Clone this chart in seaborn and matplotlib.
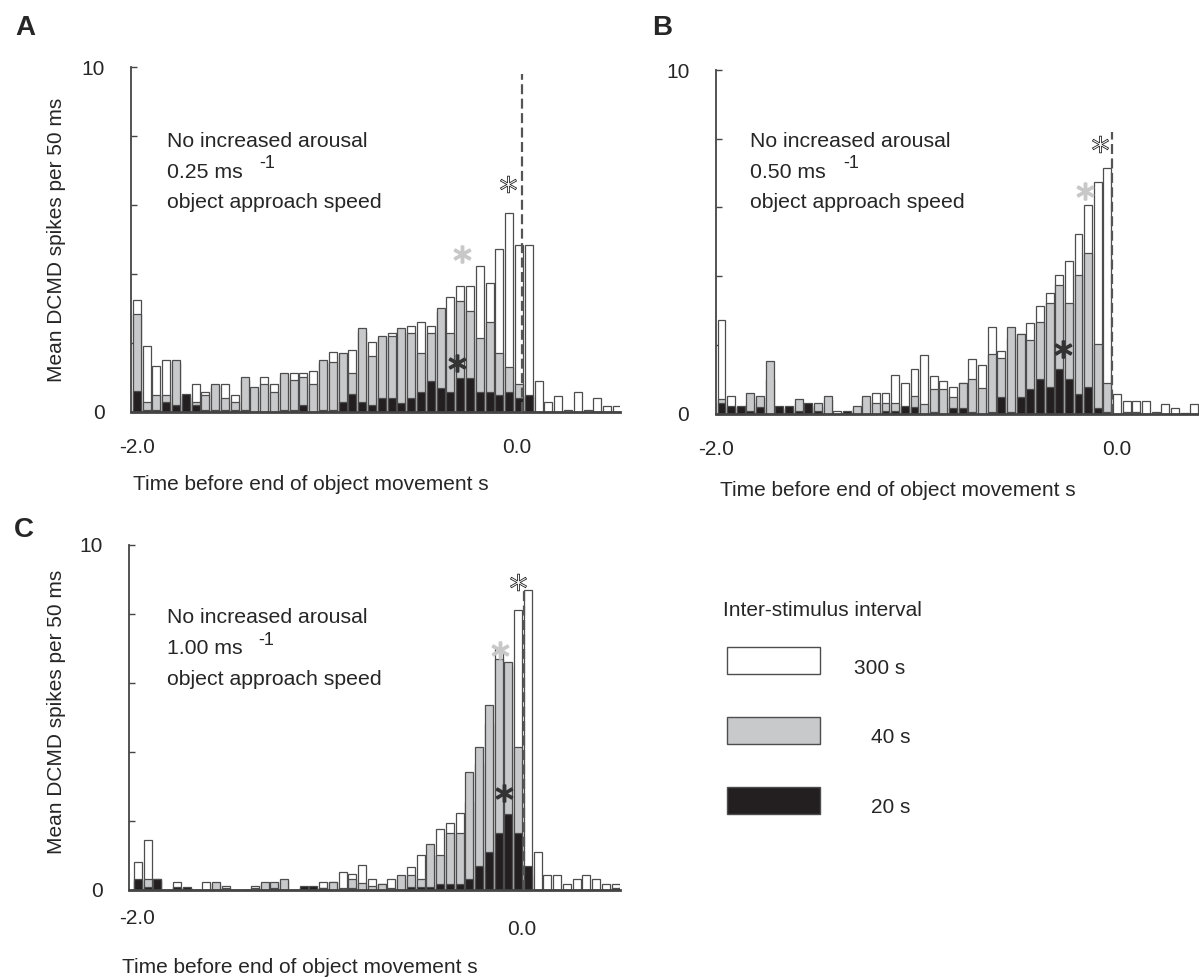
import numpy as np
import pandas as pd
import matplotlib
matplotlib.use('Agg')
import matplotlib.pyplot as plt
import seaborn as sns
from matplotlib.patches import Rectangle

sns.set_theme(style='white')
plt.rcParams['font.family'] = ['Liberation Sans', 'DejaVu Sans']

W, H = 1199, 977

isi_labels = ['300 s', '40 s', '20 s']
isi_colors = ['white', '#c8c9cb', '#231f20']
edge = '#4d4d4d'

# mean spikes per 50 ms bin, 50 bins per panel
# A: 0.25 m/s
a_300 = [3.24, 1.90, 1.32, 1.50, 1.40, 0.40, 0.80, 0.58, 0.70, 0.80,
         0.48, 0.90, 0.60, 0.99, 0.80, 1.00, 1.11, 1.11, 1.19, 1.40,
         1.73, 1.60, 1.78, 2.30, 2.01, 2.10, 2.29, 2.30, 2.49, 2.59,
         2.49, 2.90, 3.31, 3.63, 3.63, 4.21, 3.73, 4.73, 5.75, 4.84,
         4.84, 0.89, 0.27, 0.46, 0.05, 0.57, 0.05, 0.38, 0.17, 0.17]
a_40 = [2.82, 0.29, 0.48, 0.48, 1.50, 0.45, 0.29, 0.48, 0.80, 0.39,
        0.27, 0.99, 0.70, 0.80, 0.58, 1.11, 0.92, 0.99, 0.80, 1.50,
        1.43, 1.70, 1.11, 2.42, 1.62, 2.19, 2.19, 2.41, 2.29, 1.69,
        2.29, 3.00, 2.29, 3.22, 2.91, 2.12, 2.61, 1.69, 1.30, 0.79,
        0.45, 0.00, 0.00, 0.00, 0.00, 0.00, 0.00, 0.00, 0.00, 0.00]
a_20 = [0.60, 0.03, 0.05, 0.27, 0.18, 0.51, 0.18, 0.05, 0.05, 0.05,
        0.05, 0.05, 0.00, 0.00, 0.00, 0.05, 0.05, 0.19, 0.00, 0.05,
        0.05, 0.28, 0.50, 0.27, 0.18, 0.40, 0.40, 0.26, 0.40, 0.58,
        0.89, 0.68, 0.58, 0.97, 0.97, 0.58, 0.58, 0.49, 0.58, 0.40,
        0.49, 0.00, 0.00, 0.00, 0.00, 0.00, 0.00, 0.00, 0.00, 0.00]

# B: 0.50 m/s
b_300 = [2.73, 0.51, 0.15, 0.30, 0.45, 1.00, 0.10, 0.10, 0.30, 0.20,
         0.20, 0.40, 0.07, 0.05, 0.15, 0.40, 0.60, 0.60, 1.11, 0.90,
         1.29, 1.70, 1.09, 0.96, 0.78, 0.90, 1.59, 1.40, 2.51, 1.82,
         2.20, 2.30, 2.64, 3.13, 3.52, 4.02, 4.44, 5.24, 6.06, 6.75,
         7.16, 0.58, 0.37, 0.37, 0.37, 0.05, 0.27, 0.17, 0.02, 0.27]
b_40 = [0.43, 0.20, 0.18, 0.60, 0.51, 1.53, 0.15, 0.15, 0.43, 0.25,
        0.31, 0.51, 0.00, 0.05, 0.21, 0.51, 0.30, 0.30, 0.30, 0.20,
        0.50, 0.28, 0.70, 0.70, 0.49, 0.88, 0.99, 0.75, 1.72, 1.62,
        2.52, 2.30, 2.14, 2.65, 3.22, 3.73, 3.22, 4.02, 4.66, 2.01,
        0.90, 0.00, 0.05, 0.05, 0.00, 0.00, 0.00, 0.00, 0.00, 0.00]
b_20 = [0.30, 0.21, 0.21, 0.07, 0.18, 0.00, 0.21, 0.21, 0.07, 0.31,
        0.07, 0.00, 0.00, 0.07, 0.00, 0.00, 0.00, 0.07, 0.07, 0.21,
        0.19, 0.00, 0.05, 0.00, 0.17, 0.17, 0.05, 0.00, 0.05, 0.49,
        0.05, 0.49, 0.70, 0.99, 0.78, 1.29, 0.99, 0.56, 0.78, 0.17,
        0.05, 0.00, 0.00, 0.00, 0.00, 0.00, 0.00, 0.00, 0.00, 0.00]

# C: 1.00 m/s
c_300 = [0.81, 1.43, 0.25, 0.00, 0.21, 0.05, 0.00, 0.21, 0.15, 0.09,
         0.00, 0.00, 0.09, 0.15, 0.15, 0.25, 0.00, 0.05, 0.05, 0.21,
         0.21, 0.51, 0.44, 0.70, 0.30, 0.15, 0.30, 0.30, 0.66, 0.99,
         0.99, 1.77, 1.93, 2.21, 2.53, 3.64, 4.80, 6.98, 6.50, 8.11,
         8.69, 1.10, 0.41, 0.41, 0.17, 0.30, 0.41, 0.30, 0.17, 0.17]
c_40 = [0.25, 0.31, 0.31, 0.00, 0.05, 0.05, 0.00, 0.00, 0.21, 0.05,
        0.00, 0.00, 0.05, 0.21, 0.21, 0.31, 0.00, 0.05, 0.05, 0.05,
        0.21, 0.05, 0.31, 0.19, 0.10, 0.17, 0.05, 0.41, 0.41, 0.30,
        1.33, 0.99, 1.63, 1.63, 3.41, 4.14, 5.37, 6.68, 6.59, 4.14,
        0.40, 0.00, 0.00, 0.00, 0.00, 0.00, 0.00, 0.00, 0.00, 0.00]
c_20 = [0.31, 0.07, 0.31, 0.00, 0.07, 0.07, 0.00, 0.00, 0.00, 0.00,
        0.00, 0.00, 0.00, 0.00, 0.05, 0.00, 0.00, 0.09, 0.09, 0.05,
        0.00, 0.00, 0.05, 0.00, 0.00, 0.00, 0.00, 0.00, 0.06, 0.06,
        0.06, 0.15, 0.15, 0.15, 0.30, 0.68, 1.10, 1.63, 2.19, 1.63,
        0.68, 0.00, 0.00, 0.00, 0.00, 0.00, 0.00, 0.00, 0.00, 0.05]

speeds = ['0.25', '0.50', '1.00']
bin_start = [-2.0, -2.05, -2.0]   # left edge of first 50 ms bin
dash_x = [-0.01, 0.0, 0.005]
dash_top = [9.8, 8.2, 8.8]
# significance asterisks (x, y) per panel: 300 s, 40 s, 20 s
stars = [[(-0.08, 6.59), (-0.315, 4.56), (-0.34, 1.41)],
         [(-0.065, 7.86), (-0.14, 6.47), (-0.255, 1.875)],
         [(-0.026, 8.94), (-0.118, 6.96), (-0.097, 2.81)]]

fig = plt.figure(figsize=(W / 100, H / 100), dpi=100)


def fx(px):
    return px / W


def fy(py):
    return 1 - py / H


# axes rectangles in pixels: left, right, y of 0, y of 10 ; xlim
rects = [(131, 620, 411.5, 67, (-2.005, 0.49)),
         (715.7, 1204.7, 413.5, 70, (-2.055, 0.479)),
         (129, 620, 889.5, 545, (-2.0205, 0.497))]
xtick_pos = [(-1.974, -0.036), (-2.055, 0.024), (-1.98, -0.005)]
xtick_pad = [(19, 19), (19, 19), (14, 22)]
series = [(a_300, a_40, a_20), (b_300, b_40, b_20), (c_300, c_40, c_20)]

axes = []
for k in range(3):
    l, r, y0, y10, xl = rects[k]
    ax = fig.add_axes([fx(l), fy(y0), (r - l) / W, (y0 - y10) / H])
    t = bin_start[k] + 0.05 * np.arange(50) + 0.025
    df = pd.concat([pd.DataFrame({'t': np.round(t, 4), 'rate': v, 'isi': lab})
                    for v, lab in zip(series[k], isi_labels)])
    sns.barplot(data=df, x='t', y='rate', hue='isi', hue_order=isi_labels,
                palette=dict(zip(isi_labels, isi_colors)), dodge=False,
                native_scale=True, width=0.82, errorbar=None, legend=False,
                edgecolor=edge, linewidth=0.9, saturation=1, ax=ax)
    ax.vlines(dash_x[k], 0, dash_top[k], colors='#555555',
              linestyles=(0, (4.5, 2)), lw=1.6, zorder=5)
    for (sx, sy), c in zip(stars[k], ['white', '#c8c8c8', '#333333']):
        ax.plot(sx, sy, marker='$*$', ms=12, mfc=c,
                mec='#222222' if c == 'white' else c,
                mew=0.6 if c == 'white' else 1.3, zorder=6)
    ax.set_xlim(*xl)
    ax.set_ylim(0, 10)
    ax.set_yticks([0, 2, 4, 6, 8, 10], ['0', '', '', '', '', '10'])
    ax.set_xticks(xtick_pos[k], ['-2.0', '0.0'])
    ax.tick_params(axis='y', direction='in', length=4, width=1, color='#444444',
                   pad=19, labelsize=15, left=True)
    ax.tick_params(axis='x', length=0, labelsize=15)
    for tick, p in zip(ax.xaxis.get_major_ticks(), xtick_pad[k]):
        tick.set_pad(p)
    ax.set_xlabel('')
    ax.set_ylabel('')
    sns.despine(ax=ax)
    ax.spines['left'].set_color('#444444')
    ax.spines['left'].set_linewidth(1.3)
    ax.spines['bottom'].set_color('#444444')
    ax.spines['bottom'].set_linewidth(2)
    ax.set_facecolor('none')
    axes.append(ax)

# panel letters
for lab, (px, py) in zip('ABC', [(15, 35), (652, 35), (14, 537)]):
    fig.text(fx(px), fy(py), lab, fontsize=20, fontweight='bold', va='baseline')

# condition text
txt_pos = [(167, 146.7, 259.3), (750, 146.7, 843.3), (167, 623, 258)]
for s, (px, py, sx) in zip(speeds, txt_pos):
    fig.text(fx(px), fy(py), 'No increased arousal', fontsize=15.3, va='baseline')
    fig.text(fx(px), fy(py + 31), s + ' ms', fontsize=15.3, va='baseline')
    fig.text(fx(sx), fy(py + 21.6), '-1', fontsize=13, va='baseline')
    fig.text(fx(px), fy(py + 61.6), 'object approach speed', fontsize=15.3,
             va='baseline')

# axis labels
for px, py in [(133, 490), (720, 496), (122, 973)]:
    fig.text(fx(px), fy(py), 'Time before end of object movement s',
             fontsize=15, va='baseline')
for py in [240, 712]:
    fig.text(fx(56), fy(py), 'Mean DCMD spikes per 50 ms', fontsize=15,
             rotation=90, ha='center', va='center')

# legend
fig.text(fx(723), fy(616), 'Inter-stimulus interval', fontsize=15, va='baseline')
box_top = [647.3, 716.7, 786.7]
lab_x = [854.3, 870.7, 870.7]
for lab, c, bt, lx in zip(isi_labels, isi_colors, box_top, lab_x):
    fig.add_artist(Rectangle((fx(727.3), fy(bt + 27)), 92.7 / W, 27 / H,
                             transform=fig.transFigure, facecolor=c,
                             edgecolor=edge, lw=1.0))
    fig.text(fx(lx), fy(bt + 26.5), lab, fontsize=15, va='baseline')

fig.savefig('out.png', dpi=100)
